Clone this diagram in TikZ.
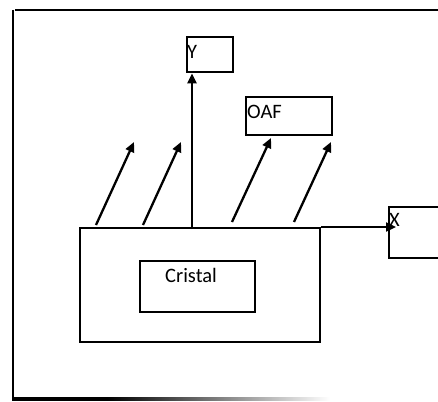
\documentclass[tikz,border=0pt]{standalone}
\usepackage{fontspec}
\setmainfont{Carlito}
\usetikzlibrary{arrows.meta}
% bottom edge of the frame: solid on the left, fading to white on the right
\pgfdeclarehorizontalshading{fadeline}{100bp}{color(0bp)=(black); color(40bp)=(black); color(75bp)=(white); color(100bp)=(white)}
\begin{document}
\begin{tikzpicture}[x=1pt,y=-1pt,
  box/.style={draw, line width=2.3pt, rectangle, anchor=north west, inner sep=0pt},
  lbl/.style={font=\fontsize{20.5}{24}\selectfont, inner sep=0pt, anchor=north west},
  arr/.style={line width=2.3pt, -{Triangle[length=10pt,width=9pt]}},
  frame/.style={line width=2.3pt}]
\useasboundingbox (0,0) rectangle (438,401);

% outer frame: left and top edges, bottom edge fading out
\draw[frame] (13,10) -- (13,400);
\draw[frame] (15,10) -- (438,10);
\shade[shading=fadeline] (12,397.8) rectangle (330,400.2);

% boxes
\node[box, minimum width=46pt, minimum height=35pt,
  label={[lbl, xshift=1pt, yshift=-9pt]north west:Y}] (ybox) at (186,36) {};
\node[box, minimum width=86pt, minimum height=38pt,
  label={[lbl, xshift=2pt, yshift=-9pt]north west:OAF}] (oaf) at (245,96) {};
\node[box, minimum width=240pt, minimum height=114pt] (housing) at (79,227) {};
\node[box, minimum width=115pt, minimum height=51pt,
  label={[lbl, xshift=26pt, yshift=-8pt]north west:Cristal}] (cristal) at (139,260) {};
\begin{scope}
\clip (0,0) rectangle (438,401);
\node[box, minimum width=70pt, minimum height=51pt,
  label={[lbl, xshift=1pt, yshift=-7pt]north west:X}] (xbox) at (388,206) {};
\end{scope}

% axes
\coordinate (yfoot) at (192,229);
\draw[arr] (yfoot) -- (yfoot |- ybox.south);
\coordinate (xtip) at (396,227);
\draw[arr] (housing.north east) -- (xtip);

% emitted rays
\coordinate (r1a) at (96,225);  \coordinate (r1b) at (134,142);
\coordinate (r2a) at (143,225); \coordinate (r2b) at (181,142);
\coordinate (r3a) at (232,222); \coordinate (r3b) at (271,138);
\coordinate (r4a) at (294,222); \coordinate (r4b) at (331,142);
\draw[arr] (r1a) -- (r1b);
\draw[arr] (r2a) -- (r2b);
\draw[arr] (r3a) -- (r3b);
\draw[arr] (r4a) -- (r4b);
\end{tikzpicture}
\end{document}
